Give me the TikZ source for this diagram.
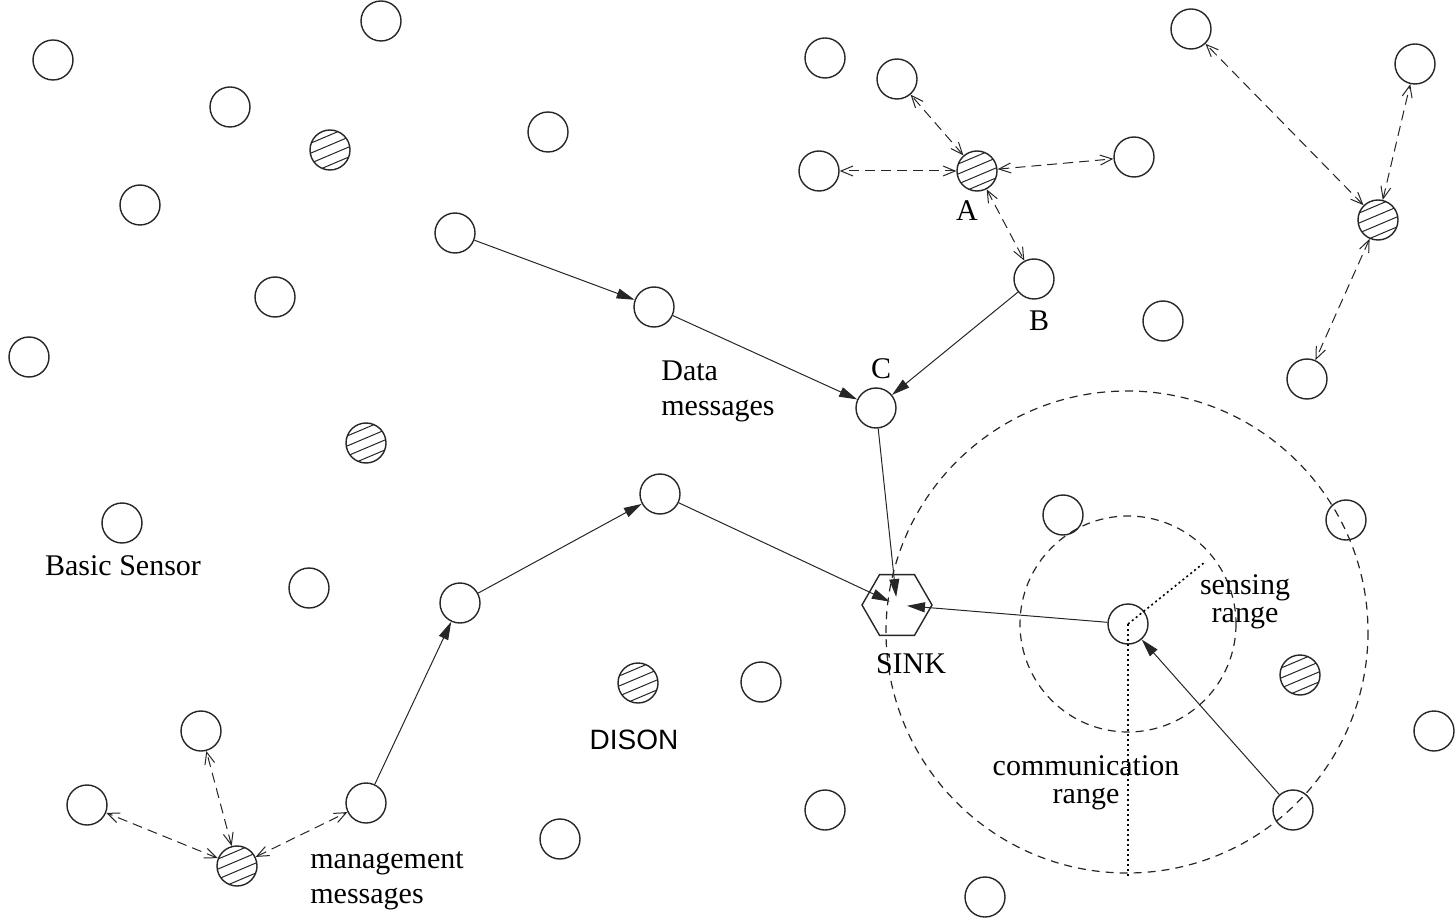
\documentclass[tikz,border=0pt]{standalone}
\usepackage{fontspec}
\setmainfont{Liberation Serif}
\newfontfamily\disonfont{Liberation Sans}
\usetikzlibrary{arrows.meta,shapes.geometric}

\tikzset{
  sensor/.style={circle,draw=black!85,line width=0.7pt,minimum size=20pt,inner sep=0pt},
  hatched/.style={sensor,path picture={
      \foreach \d in {-15,-5,5,15}
        \draw[line width=0.5pt,shift={(path picture bounding box.center)}] (-26,\d-11) -- (26,\d+11);}},
  sinkbox/.style={regular polygon,regular polygon sides=6,draw=black!85,line width=0.7pt,minimum size=35pt,inner sep=0pt},
  datamsg/.style={line width=0.5pt,draw=black!85,-{Triangle[length=9pt,width=5pt]}},
  mgmtmsg/.style={line width=0.5pt,draw=black!85,dash pattern=on 5pt off 3pt,
      {Straight Barb[length=6pt,width=5pt]}-{Straight Barb[length=6pt,width=5pt]}},
  rangeline/.style={line width=0.6pt,draw=black!85,dash pattern=on 4pt off 3pt},
  rangedots/.style={line width=0.8pt,dash pattern=on 1pt off 1.5pt},
  lbl/.style={font=\fontsize{15}{17.5}\selectfont,inner sep=0pt,align=center},
  tightlbl/.style={lbl,font=\fontsize{15}{14}\selectfont}
}

\begin{document}
\begin{tikzpicture}[x=0.5pt,y=0.5pt,yscale=-1]
\useasboundingbox (0,0) rectangle (1455,919);

% basic sensors
\node[sensor] (s1) at (53,60) {};
\node[sensor] (s2) at (381,21) {};
\node[sensor] (s3) at (230,107) {};
\node[sensor] (s4) at (548,132) {};
\node[sensor] (s5) at (140,205) {};
\node[sensor] (s6) at (275,297) {};
\node[sensor] (s7) at (29,357) {};
\node[sensor] (s8) at (455,233) {};
\node[sensor] (s9) at (654,307) {};
\node[sensor] (s10) at (825,58) {};
\node[sensor] (s11) at (897,79) {};
\node[sensor] (s12) at (819,171) {};
\node[sensor] (s13) at (1134,157) {};
\node[sensor] (s14) at (1191,29) {};
\node[sensor] (s15) at (1415,64) {};
\node[sensor] (B) at (1034,279) {};
\node[sensor] (s17) at (1163,321) {};
\node[sensor] (s18) at (1307,379) {};
\node[sensor] (C) at (876,408) {};
\node[sensor] (s20) at (660,494) {};
\node[sensor] (basic) at (122,523) {};
\node[sensor] (s22) at (309,588) {};
\node[sensor] (s23) at (460,603) {};
\node[sensor] (s24) at (761,682) {};
\node[sensor] (s25) at (201,731) {};
\node[sensor] (s26) at (87,805) {};
\node[sensor] (s27) at (366,803) {};
\node[sensor] (s28) at (560,839) {};
\node[sensor] (s29) at (825,810) {};
\node[sensor] (s30) at (985,897) {};
\node[sensor] (s31) at (1063,515) {};
\node[sensor] (s32) at (1346,520) {};
\node[sensor] (ctr) at (1128,624) {};
\node[sensor] (s34) at (1434,731) {};
\node[sensor] (s35) at (1293,810) {};

% DISON nodes
\node[hatched] (h1) at (330,150) {};
\node[hatched] (h2) at (366,443) {};
\node[hatched] (h3) at (638,683) {};
\node[hatched] (h4) at (237,866) {};
\node[hatched] (A) at (977,171) {};
\node[hatched] (h6) at (1378,220) {};
\node[hatched] (h7) at (1300,675) {};

\node[sinkbox] (sink) at (897,605) {};

% ranges
\draw[rangeline] (ctr.center) circle (108);
\draw[rangeline] (1127,632) circle (241);
\draw[rangedots] (ctr.center) -- (1128,876);
\draw[rangedots] (ctr.center) -- (1205,562);

% data messages
\draw[datamsg] (s8) -- (s9);
\draw[datamsg] (s9) -- (C);
\draw[datamsg] (B) -- (C);
\draw[datamsg,shorten >=4pt] (C) -- (sink.center);
\draw[datamsg] (s27) -- (s23);
\draw[datamsg] (s23) -- (s20);
\draw[datamsg,shorten >=4pt] (s20) -- (sink.center);
\draw[datamsg,shorten >=5pt] (ctr) -- (sink.center);
\draw[datamsg] (s35) -- (ctr);

% management messages
\draw[mgmtmsg] (A) -- (s11);
\draw[mgmtmsg] (A) -- (s12);
\draw[mgmtmsg] (A) -- (s13);
\draw[mgmtmsg] (A) -- (B);
\draw[mgmtmsg] (h6) -- (s14);
\draw[mgmtmsg] (h6) -- (s15);
\draw[mgmtmsg] (h6) -- (s18);
\draw[mgmtmsg] (h4) -- (s25);
\draw[mgmtmsg] (h4) -- (s26);
\draw[mgmtmsg] (h4) -- (s27);

% labels
\node[lbl] (lA) at (967,211) {A};
\node[lbl] (lB) at (1039,321) {B};
\node[lbl] (lC) at (881,369) {C};
\node[lbl,align=left] (ldata) at (718,391) {Data\\messages};
\node[lbl] (lbasic) at (123,566) {Basic Sensor};
\node[lbl] (lsink) at (911,664) {SINK};
\node[inner sep=0pt,font=\disonfont\fontsize{14}{16}\selectfont] (ldison) at (634,740) {DISON};
\node[lbl,align=left] (lmgmt) at (387,881) {management\\messages};
\node[tightlbl] (lcomm) at (1086,783) {communication\\range};
\node[tightlbl] (lsense) at (1245,602) {sensing\\range};
\end{tikzpicture}
\end{document}
